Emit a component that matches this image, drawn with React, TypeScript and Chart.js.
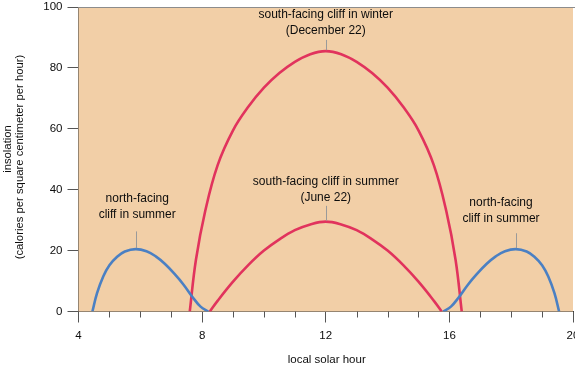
import React, { useEffect, useRef } from 'react';
import { Chart, registerables } from 'chart.js';

Chart.register(...registerables);

// ---- data ----
const winterHours = [7.6, 7.8, 8.1, 8.5, 9, 9.5, 10, 10.5, 11, 11.5, 12, 12.5, 13, 13.5, 14, 14.5, 15, 15.5, 15.9, 16.2, 16.4];
const winterValues = [0, 17, 33, 48, 59.5, 67.3, 73.5, 78.3, 82, 84.5, 85.5, 84.5, 82, 78.3, 73.5, 67.3, 59.5, 48, 33, 17, 0];

const southSummerHours = [8.25, 8.5, 9, 9.5, 10, 10.5, 11, 11.5, 12, 12.5, 13, 13.5, 14, 14.5, 15, 15.5, 15.75];
const southSummerValues = [0, 3.5, 9.8, 15.3, 20, 23.7, 26.7, 28.6, 29.5, 28.6, 26.7, 23.7, 20, 15.3, 9.8, 3.5, 0];

const northMorningHours = [4.45, 4.6, 4.8, 5.0, 5.25, 5.5, 5.85, 6.2, 6.5, 6.8, 7.1, 7.4, 7.7, 7.95, 8.2];
const northMorningValues = [0, 6, 11.5, 15.2, 18, 19.7, 20.5, 19.8, 18.1, 15.6, 12.4, 8.8, 4.6, 1.6, 0];

const northEveningHours = [15.8, 16.05, 16.3, 16.6, 16.9, 17.2, 17.5, 17.8, 18.15, 18.5, 18.75, 19.0, 19.2, 19.4, 19.55];
const northEveningValues = [0, 1.6, 4.6, 8.8, 12.4, 15.6, 18.1, 19.8, 20.5, 19.7, 18, 15.2, 11.5, 6, 0];

const xTickValues = [4, 8, 12, 16, 20];
const yTickValues = [0, 20, 40, 60, 80, 100];

const labelLines = [
  ['south-facing cliff in winter', '(December 22)'],
  ['south-facing cliff in summer', '(June 22)'],
  ['north-facing', 'cliff in summer'],
  ['north-facing', 'cliff in summer'],
];
const labelPeakHours = [12, 12, 5.85, 18.15];
const labelPeakValues = [85.5, 29.5, 20.5, 20.5];

// ---- layout / style (not data) ----
const labelTextHours = [12, 12, 5.9, 17.67];
const labelTextValues = [97.4, 42.7, 37.2, 35.8];
const labelLeaderTopValues = [89.2, 34.7, 26.3, 25.7];

const RED = '#e1335d';
const BLUE = '#4b80c3';
const BG = '#f2cfa7';
const FONT = '"Liberation Sans", Arial, Helvetica, sans-serif';
const TEXT = '#0d0d0d';

function pts(h: number[], v: number[]) {
  return h.map((x, i) => ({ x, y: v[i] }));
}

const decorPlugin = {
  id: 'decor',
  beforeDatasetsDraw(chart: any) {
    const { ctx, chartArea } = chart;
    ctx.save();
    ctx.fillStyle = BG;
    ctx.fillRect(chartArea.left, chartArea.top, chartArea.right - chartArea.left, chartArea.bottom - chartArea.top);
    ctx.restore();
  },
  afterDraw(chart: any) {
    const { ctx, chartArea } = chart;
    const xs = chart.scales.x;
    const ys = chart.scales.y;
    ctx.save();
    // top border
    ctx.strokeStyle = '#8c8c8c';
    ctx.lineWidth = 1;
    ctx.beginPath();
    ctx.moveTo(chartArea.left, chartArea.top + 0.5);
    ctx.lineTo(chart.width, chartArea.top + 0.5);
    ctx.stroke();
    // minor ticks
    ctx.strokeStyle = '#555';
    for (let h = 4; h <= 20; h++) {
      if (xTickValues.includes(h)) continue;
      const px = Math.round(xs.getPixelForValue(h)) + 0.5;
      ctx.beginPath();
      ctx.moveTo(px, chartArea.bottom);
      ctx.lineTo(px, chartArea.bottom + 6);
      ctx.stroke();
    }
    // annotations
    ctx.fillStyle = TEXT;
    ctx.font = `12px ${FONT}`;
    ctx.textAlign = 'center';
    ctx.textBaseline = 'middle';
    labelLines.forEach((lines, i) => {
      const tx = xs.getPixelForValue(labelTextHours[i]);
      const ty = ys.getPixelForValue(labelTextValues[i]);
      lines.forEach((t, j) => ctx.fillText(t, tx, ty + j * 16));
      const lx = Math.round(xs.getPixelForValue(labelPeakHours[i])) + 0.5;
      ctx.strokeStyle = '#9a9a9a';
      ctx.beginPath();
      ctx.moveTo(lx, ys.getPixelForValue(labelLeaderTopValues[i]));
      ctx.lineTo(lx, ys.getPixelForValue(labelPeakValues[i]) - 1);
      ctx.stroke();
    });
    // x title
    ctx.font = `11.5px ${FONT}`;
    ctx.textBaseline = 'alphabetic';
    ctx.fillText('local solar hour', (chartArea.left + chartArea.right) / 2 + 1, 363);
    // y title
    ctx.save();
    ctx.translate(8, 149);
    ctx.rotate(-Math.PI / 2);
    ctx.textBaseline = 'middle';
    ctx.font = `11.3px ${FONT}`;
    ctx.fillText('insolation', 0, 0);
    ctx.restore();
    ctx.save();
    ctx.translate(19.5, 157);
    ctx.rotate(-Math.PI / 2);
    ctx.textBaseline = 'middle';
    ctx.font = `11.3px ${FONT}`;
    ctx.fillText('(calories per square centimeter per hour)', 0, 0);
    ctx.restore();
    ctx.restore();
  },
};

export default function App() {
  const ref = useRef<HTMLCanvasElement>(null);
  useEffect(() => {
    if (!ref.current) return;
    const lineDs = (data: any, color: string) => ({
      data,
      borderColor: color,
      borderWidth: 2.6,
      pointRadius: 0,
      fill: false,
      tension: 0.4,
    });
    const chart = new Chart(ref.current, {
      type: 'line',
      data: {
        datasets: [
          lineDs(pts(northMorningHours, northMorningValues), BLUE),
          lineDs(pts(northEveningHours, northEveningValues), BLUE),
          lineDs(pts(southSummerHours, southSummerValues), RED),
          lineDs(pts(winterHours, winterValues), RED),
        ],
      },
      options: {
        animation: false,
        responsive: true,
        maintainAspectRatio: false,
        layout: { padding: { top: 7, right: 2, left: 0, bottom: 0 } },
        plugins: { legend: { display: false }, tooltip: { enabled: false } },
        scales: {
          x: {
            type: 'linear',
            min: 4,
            max: 20,
            afterBuildTicks: (s: any) => {
              s.ticks = xTickValues.map((v) => ({ value: v }));
            },
            ticks: {
              autoSkip: false,
              maxRotation: 0,
              padding: 6,
              color: TEXT,
              font: { family: FONT, size: 11.5 },
              callback: (v: any) => String(v),
            },
            grid: { drawOnChartArea: false, tickLength: 11, tickColor: '#555', tickWidth: 1 },
            border: { color: '#3a3a3a', width: 1 },
            afterFit: (s: any) => {
              s.height = 54.5;
              s.paddingLeft = 0;
              s.paddingRight = 0;
            },
          },
          y: {
            min: 0,
            max: 100,
            afterBuildTicks: (s: any) => {
              s.ticks = yTickValues.map((v) => ({ value: v }));
            },
            ticks: {
              padding: 5,
              color: TEXT,
              font: { family: FONT, size: 11.5 },
            },
            grid: { drawOnChartArea: false, tickLength: 11, tickColor: '#555', tickWidth: 1 },
            border: { color: '#3a3a3a', width: 1 },
            afterFit: (s: any) => {
              s.width = 78.5;
              s.paddingTop = 0;
              s.paddingBottom = 0;
            },
          },
        },
      },
      plugins: [decorPlugin],
    });
    return () => chart.destroy();
  }, []);
  return (
    <div style={{ position: 'absolute', left: 0, top: 0, width: 575, height: 366 }}>
      <canvas ref={ref} />
    </div>
  );
}
